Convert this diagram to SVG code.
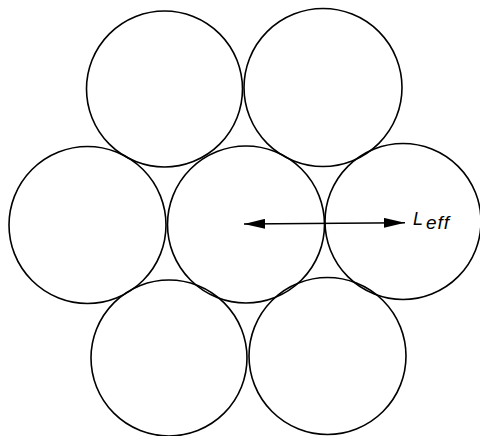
<svg xmlns="http://www.w3.org/2000/svg" width="480" height="436" viewBox="0 0 480 436">
<style>
.c{fill:none;stroke:#000;stroke-width:1.6}
.a{stroke:#000;stroke-width:1.6;fill:none}
.t{font-family:"Liberation Sans",Arial,sans-serif;font-style:italic;fill:#000}
</style>
<defs>
<marker id="ah" viewBox="0 0 21 10" refX="21" refY="5" markerWidth="21" markerHeight="10" markerUnits="userSpaceOnUse" orient="auto-start-reverse">
<path d="M0,0 L21,5 L0,10 Z" fill="#000"/>
</marker>
</defs>
<rect width="480" height="436" fill="#fff"/>
<g id="circle-top-left"><circle class="c" cx="164.5" cy="89" r="78"/></g>
<g id="circle-top-right"><circle class="c" cx="323" cy="87.5" r="79"/></g>
<g id="circle-mid-left"><circle class="c" cx="87.5" cy="225" r="78.5"/></g>
<g id="circle-center"><circle class="c" cx="246" cy="224.5" r="78.5"/></g>
<g id="circle-mid-right"><circle class="c" cx="403" cy="221.5" r="78"/></g>
<g id="circle-bottom-left"><circle class="c" cx="169" cy="358" r="78"/></g>
<g id="circle-bottom-right"><circle class="c" cx="327.5" cy="356" r="78.5"/></g>
<g id="connectors">
<line class="a" x1="244" y1="224" x2="405" y2="222.7" marker-start="url(#ah)" marker-end="url(#ah)"/>
</g>
<g id="label">
<text class="t" x="413" y="225" font-size="18">L<tspan font-size="19" dx="3" dy="4" letter-spacing="1">eff</tspan></text>
</g>
</svg>
